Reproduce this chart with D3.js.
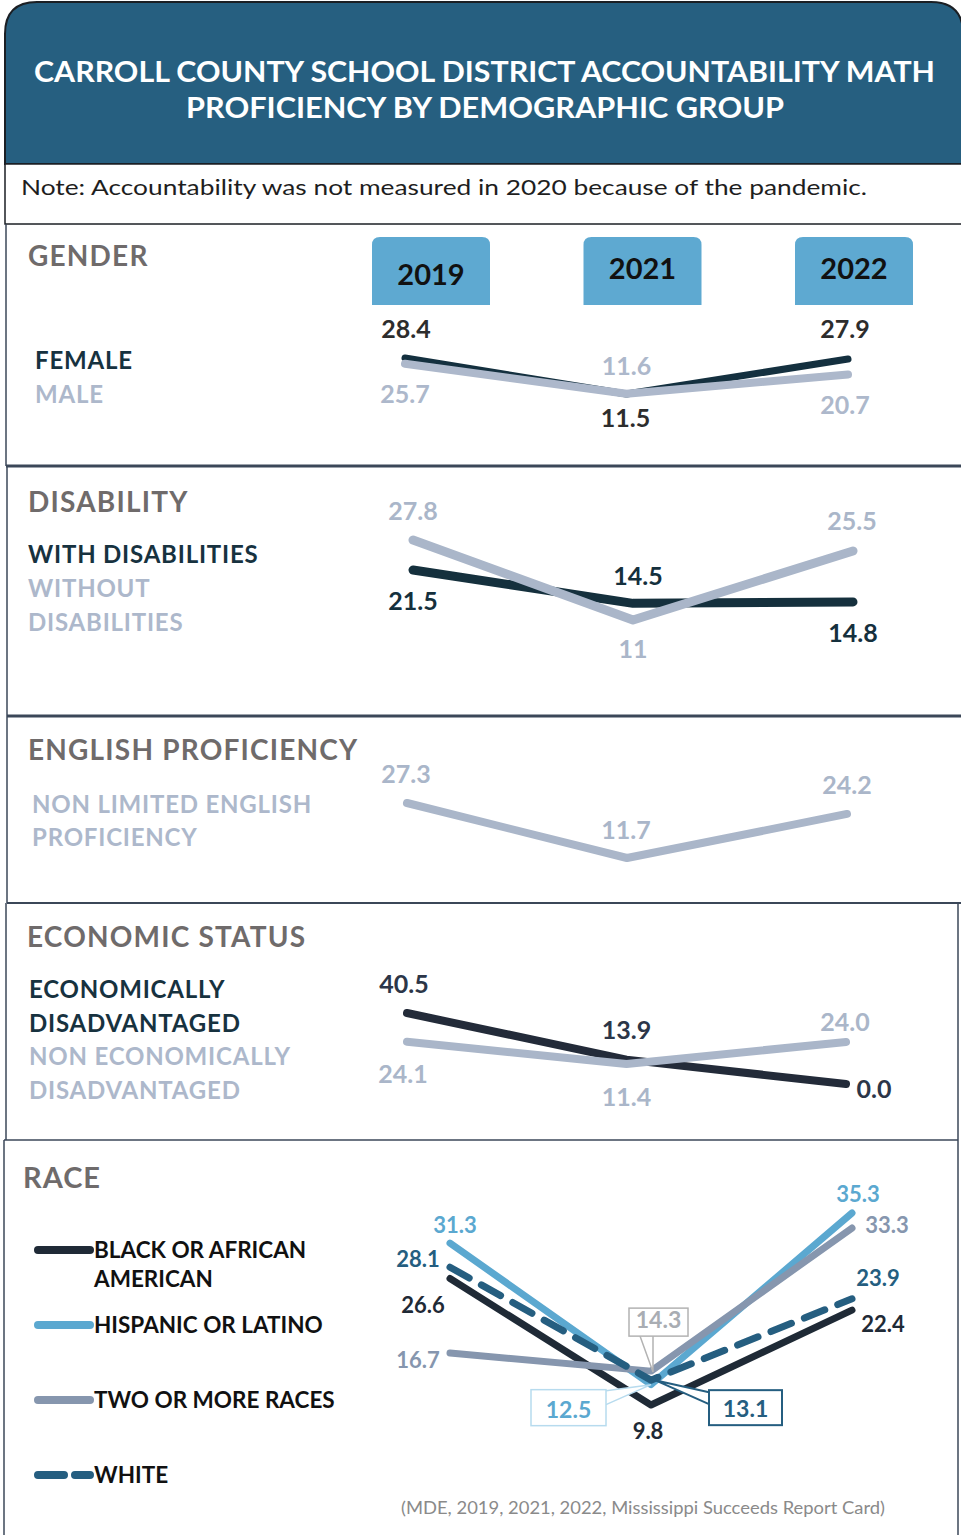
<!DOCTYPE html>
<html lang="en">
<head>
<meta charset="UTF-8"/>
<title>Carroll County Math Proficiency</title>
<script src="https://d3js.org/d3.v7.min.js"></script>
<style>
  body { margin: 0; background: #fff; }
  svg text { font-family: Lato, "Open Sans", sans-serif; }
</style>
</head>
<body>
<div id="chart"></div>
<script>
// years shown on every panel
var years = ["2019", "2021", "2022"];

// gender
var female = [28.4, 11.5, 27.9];
var male = [25.7, 11.6, 20.7];
// disability
var withDis = [21.5, 14.5, 14.8];
var withoutDis = [27.8, 11, 25.5];
// english proficiency
var nonLep = [27.3, 11.7, 24.2];
// economic status
var econDis = [40.5, 13.9, 0.0];
var nonEcon = [24.1, 11.4, 24.0];
// race
var black = [26.6, 9.8, 22.4];
var hispanic = [31.3, 12.5, 35.3];
var twoMore = [16.7, 14.3, 33.3];
var white = [28.1, 13.1, 23.9];

var w = 961, h = 1535;

var svg = d3.select("#chart").append("svg")
  .attr("width", w).attr("height", h);

// ---------- header ----------
svg.append("path")
  .attr("d", "M5,164 V34 Q5,2 37,2 H931 Q963,2 963,34 V164 Z")
  .attr("fill", "#265f80").attr("stroke", "#1b1f24").attr("stroke-width", 2);

svg.append("text").attr("x", 34).attr("y", 82)
  .attr("textLength", 901).attr("lengthAdjust", "spacingAndGlyphs")
  .attr("fill", "#fff").attr("font-size", 28).attr("font-weight", 700)
  .text("CARROLL COUNTY SCHOOL DISTRICT ACCOUNTABILITY MATH");
svg.append("text").attr("x", 186).attr("y", 118)
  .attr("textLength", 598).attr("lengthAdjust", "spacingAndGlyphs")
  .attr("fill", "#fff").attr("font-size", 28).attr("font-weight", 700)
  .text("PROFICIENCY BY DEMOGRAPHIC GROUP");

svg.append("rect").attr("x", 5).attr("y", 164).attr("width", 962).attr("height", 60)
  .attr("fill", "#fff").attr("stroke", "#1b1f24").attr("stroke-width", 1.5);
svg.append("text").attr("x", 21).attr("y", 195)
  .attr("textLength", 846).attr("lengthAdjust", "spacingAndGlyphs")
  .attr("fill", "#1e1e1e").attr("font-size", 22)
  .text("Note: Accountability was not measured in 2020 because of the pandemic.");

// ---------- panel frames ----------
var border = "#3b4758";
function vline(x, y1, y2, sw) {
  svg.append("line").attr("x1", x).attr("x2", x).attr("y1", y1).attr("y2", y2)
    .attr("stroke", border).attr("stroke-width", sw);
}
function hline(y, x1, x2, sw) {
  svg.append("line").attr("x1", x1).attr("x2", x2).attr("y1", y).attr("y2", y)
    .attr("stroke", border).attr("stroke-width", sw);
}
vline(6, 224, 466, 1.5); hline(466, 6, 961, 3);
vline(7, 466, 716, 1.5); hline(716, 7, 961, 3);
vline(7, 716, 903, 1.5); hline(903, 7, 961, 2);
vline(6, 903, 1140, 1.5); vline(958, 903, 1140, 1.5); hline(1140, 4, 958, 1.5);
vline(4, 1140, 1535, 1.5); vline(958, 1140, 1535, 1.5);

// ---------- year tabs ----------
var tabX = d3.scalePoint().domain(years).range([431, 854]);
var tabTextY = { "2019": 285, "2021": 279, "2022": 279 };
var tabs = svg.selectAll("g.tab").data(years).enter().append("g").attr("class", "tab");
tabs.append("path")
  .attr("d", function(d) {
    var x0 = tabX(d) - 59, x1 = tabX(d) + 59, y0 = 237, y1 = 305, r = 8;
    return "M" + x0 + "," + y1 + " V" + (y0 + r) + " Q" + x0 + "," + y0 + " " + (x0 + r) + "," + y0 +
      " H" + (x1 - r) + " Q" + x1 + "," + y0 + " " + x1 + "," + (y0 + r) + " V" + y1 + " Z";
  })
  .attr("fill", "#5ea9d1");
tabs.append("text")
  .attr("x", function(d) { return tabX(d); })
  .attr("y", function(d) { return tabTextY[d]; })
  .attr("text-anchor", "middle").attr("font-size", 29).attr("font-weight", 700)
  .attr("fill", "#111").text(function(d) { return d; });

// ---------- helpers ----------
var headColor = "#6f6b6b";
function heading(txt, x, y) {
  svg.append("text").attr("x", x).attr("y", y)
    .attr("font-size", 28).attr("font-weight", 700).attr("letter-spacing", 1.2)
    .attr("fill", headColor).text(txt);
}
function legendText(lines, x, y0, step, color) {
  lines.forEach(function(t, i) {
    svg.append("text").attr("x", x).attr("y", y0 + i * step)
      .attr("font-size", 24).attr("font-weight", 700).attr("letter-spacing", 0.8)
      .attr("fill", color).text(t);
  });
}

function drawPanel(p) {
  var x = d3.scalePoint().domain(years).range(p.xr);
  var y = d3.scaleLinear().domain(p.yd).range(p.yr);
  var line = d3.line()
    .x(function(d, i) { return x(years[i]); })
    .y(function(d) { return y(d); });

  p.series.forEach(function(s) {
    svg.append("path").datum(s.values)
      .attr("d", line)
      .attr("fill", "none")
      .attr("stroke", s.color)
      .attr("stroke-width", s.width)
      .attr("stroke-linecap", "round")
      .attr("stroke-linejoin", "round")
      .attr("stroke-dasharray", s.dash || null);
  });

  p.series.forEach(function(s) {
    var pts = s.values.map(function(v, i) { return { v: v, i: i, off: s.offsets[i] }; })
      .filter(function(d) { return d.off !== null; });
    svg.selectAll(null).data(pts).enter()
      .append("text")
      .attr("x", function(d) { return x(years[d.i]) + d.off[0]; })
      .attr("y", function(d) { return y(d.v) + d.off[1]; })
      .attr("text-anchor", "middle")
      .attr("font-size", p.labelSize || 25).attr("font-weight", 700)
      .attr("fill", s.labelColor)
      .text(function(d) { return s.fmt ? s.fmt(d.v) : d.v; });
  });

  (p.callouts || []).forEach(function(c) {
    var s = p.series[c.series];
    var px = x(years[c.idx]), py = y(s.values[c.idx]);
    var bx = px + c.box[0], by = py + c.box[1], bw = c.box[2], bh = c.box[3];
    svg.append("path")
      .attr("d", c.wedge(px, py, bx, by, bw, bh))
      .attr("fill", "#fff").attr("stroke", c.stroke).attr("stroke-width", c.sw);
    svg.append("rect").attr("x", bx).attr("y", by).attr("width", bw).attr("height", bh)
      .attr("fill", "#fff").attr("stroke", c.stroke).attr("stroke-width", c.sw);
    svg.append("text").attr("x", bx + bw / 2).attr("y", by + bh - 8)
      .attr("text-anchor", "middle").attr("font-size", 23).attr("font-weight", 700)
      .attr("fill", c.text).text(s.values[c.idx]);
  });
}

// ---------- GENDER ----------
heading("GENDER", 28, 266);
legendText(["FEMALE"], 35, 369, 0, "#17323f");
legendText(["MALE"], 35, 403, 0, "#adb8cb");
drawPanel({
  xr: [405, 848], yd: [11.5, 28.4], yr: [394, 358],
  series: [
    { values: female, color: "#14303f", width: 7, labelColor: "#2d2d2d",
      offsets: [[1, -20], [-1, 33], [-3, -21]] },
    { values: male, color: "#adb8cb", width: 8, labelColor: "#adb8cb",
      offsets: [[0, 39], [0, -19], [-3, 40]] }
  ]
});

// ---------- DISABILITY ----------
heading("DISABILITY", 28, 512);
legendText(["WITH DISABILITIES"], 28, 563, 0, "#17323f");
legendText(["WITHOUT", "DISABILITIES"], 28, 597, 34, "#adb8cb");
drawPanel({
  xr: [413, 853], yd: [11, 27.8], yr: [620, 540],
  series: [
    { values: withDis, color: "#15303d", width: 9, labelColor: "#15303d",
      offsets: [[0, 40], [5, -18], [0, 40]] },
    { values: withoutDis, color: "#aab6c9", width: 9, labelColor: "#aab6c9",
      offsets: [[0, -20], [0, 38], [-1, -21]] }
  ]
});

// ---------- ENGLISH PROFICIENCY ----------
heading("ENGLISH PROFICIENCY", 28, 760);
legendText(["NON LIMITED ENGLISH", "PROFICIENCY"], 32, 813, 33, "#adb8cb");
drawPanel({
  xr: [407, 847], yd: [11.7, 27.3], yr: [858, 803],
  series: [
    { values: nonLep, color: "#aab6c9", width: 8, labelColor: "#aab6c9",
      offsets: [[-1, -20], [-1, -19], [0, -20]] }
  ]
});

// ---------- ECONOMIC STATUS ----------
heading("ECONOMIC STATUS", 27, 947);
legendText(["ECONOMICALLY", "DISADVANTAGED"], 29, 998, 34, "#17323f");
legendText(["NON ECONOMICALLY", "DISADVANTAGED"], 29, 1065, 34, "#adb8cb");
drawPanel({
  xr: [407, 846], yd: [0, 40.5], yr: [1084, 1013],
  series: [
    { values: econDis, color: "#232b39", width: 8, labelColor: "#2c3648",
      fmt: d3.format(".1f"), offsets: [[-3, -20], [0, -21], [28, 14]] },
    { values: nonEcon, color: "#aab6c9", width: 8, labelColor: "#aab6c9",
      fmt: d3.format(".1f"), offsets: [[-4, 41], [0, 42], [-1, -11]] }
  ]
});

// ---------- RACE ----------
svg.append("text").attr("x", 23).attr("y", 1188)
  .attr("font-size", 29).attr("font-weight", 700).attr("letter-spacing", 1)
  .attr("fill", headColor).text("RACE");

var raceLegend = [
  { lines: ["BLACK OR AFRICAN", "AMERICAN"], y: 1250, color: "#1f2a36", dash: null },
  { lines: ["HISPANIC OR LATINO"], y: 1325, color: "#5ba8d0", dash: null },
  { lines: ["TWO OR MORE RACES"], y: 1400, color: "#8696ae", dash: null },
  { lines: ["WHITE"], y: 1475, color: "#255e80", dash: "26,11" }
];
raceLegend.forEach(function(r) {
  svg.append("line").attr("x1", 38).attr("x2", 90).attr("y1", r.y).attr("y2", r.y)
    .attr("stroke", r.color).attr("stroke-width", 8).attr("stroke-linecap", "round")
    .attr("stroke-dasharray", r.dash);
  r.lines.forEach(function(t, i) {
    svg.append("text").attr("x", 94).attr("y", r.y + 8 + i * 29)
      .attr("font-size", 22.5).attr("font-weight", 700)
      .attr("fill", "#111").text(t);
  });
});

drawPanel({
  xr: [450, 852], yd: [9.8, 35.3], yr: [1405, 1213], labelSize: 22,
  series: [
    { values: black, color: "#1f2a36", width: 7, labelColor: "#1f2a36",
      offsets: [[-27, 34], [-3, 34], [31, 22]] },
    { values: hispanic, color: "#5ba8d0", width: 7, labelColor: "#5ba8d0",
      offsets: [[5, -10], null, [6, -11]] },
    { values: twoMore, color: "#8696ae", width: 7, labelColor: "#8696ae",
      offsets: [[-32, 15], null, [35, 5]] },
    { values: white, color: "#255e80", width: 7, labelColor: "#255e80", dash: "22,14",
      offsets: [[-32, 0], null, [26, -13]] }
  ],
  callouts: [
    { series: 2, idx: 1, box: [-22, -63, 59, 28], stroke: "#b3b3b3", text: "#a9adb3", sw: 1.5,
      wedge: function(px, py, bx, by, bw, bh) {
        return "M" + (bx + 11) + "," + (by + bh) + " L" + (px + 2) + "," + (py + 1) + " L" + (px + 2) + "," + (by + bh);
      } },
    { series: 1, idx: 1, box: [-120, 5, 75, 36], stroke: "#b7dbee", text: "#5ba8d0", sw: 1.5,
      wedge: function(px, py, bx, by, bw, bh) {
        return "M" + (bx + bw) + "," + (by + 1) + " L" + px + "," + py + " L" + (bx + bw) + "," + (by + 15);
      } },
    { series: 3, idx: 1, box: [58, 10, 73, 35], stroke: "#255e80", text: "#255e80", sw: 2,
      wedge: function(px, py, bx, by, bw, bh) {
        return "M" + bx + "," + (by + 2) + " L" + (px + 4) + "," + py + " L" + bx + "," + (by + 14);
      } }
  ]
});

// source
svg.append("text").attr("x", 401).attr("y", 1514)
  .attr("textLength", 484).attr("lengthAdjust", "spacingAndGlyphs")
  .attr("font-size", 18).attr("fill", "#8a8a8a")
  .text("(MDE, 2019, 2021, 2022, Mississippi  Succeeds Report Card)");
</script>
</body>
</html>
